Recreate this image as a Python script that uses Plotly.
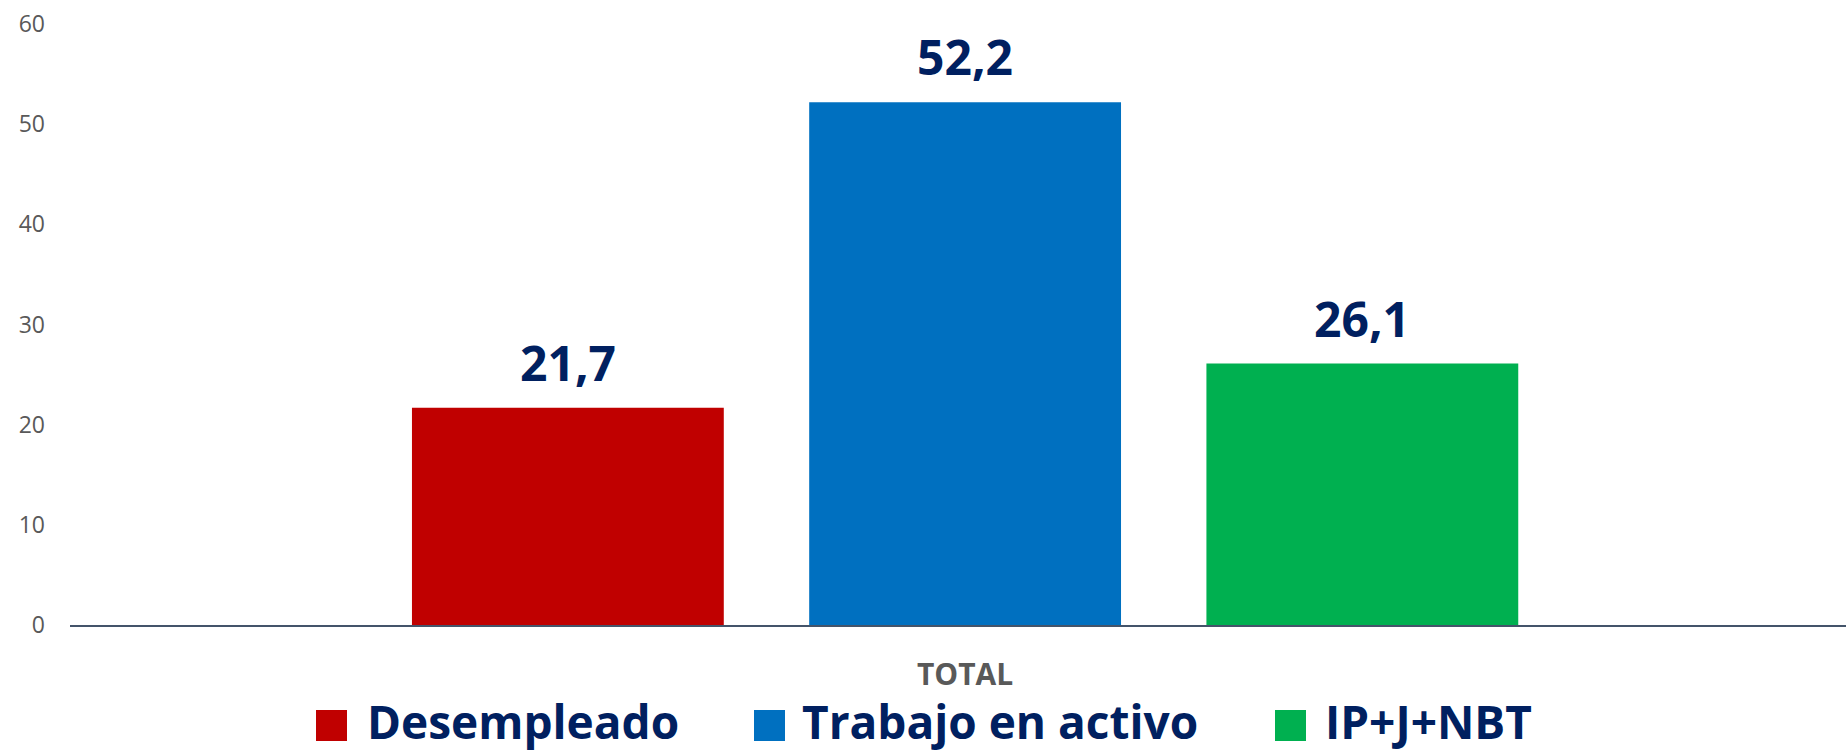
import plotly.graph_objects as go

# ---- data ----
categories = ["TOTAL"]
series_names = ["Desempleado", "Trabajo en activo", "IP+J+NBT"]
series_values = [21.7, 52.2, 26.1]
series_colors = ["#C00000", "#0070C0", "#00B050"]
y_ticks = [0, 10, 20, 30, 40, 50, 60]

# ---- layout constants ----
W, H = 1846, 752
ML, MR, MT, MB = 70, 0, 24, 127
PW, PH = W - ML - MR, H - MT - MB
BARGAP = 0.329
BARGROUPGAP = 0.215
NAVY = "#002060"
GRAY = "#595959"
FONT = "Open Sans"


def px_x(px):
    return (px - ML) / PW


def px_y(py):
    return (H - MB - py) / PH


fig = go.Figure()
for name, val, col in zip(series_names, series_values, series_colors):
    fig.add_trace(go.Bar(
        x=categories, y=[val], name=name,
        marker=dict(color=col, line=dict(width=0)),
        showlegend=False, hoverinfo="x+y+name",
    ))

# value labels above bars (positioned on the category axis through group offsets)
n = len(series_names)
slot = (1 - BARGAP) / n
annotations = []
for i, val in enumerate(series_values):
    annotations.append(dict(
        x=(i - (n - 1) / 2) * slot, y=val, xref="x", yref="y",
        text=f"{val:.1f}".replace(".", ","), showarrow=False,
        xanchor="center", yanchor="bottom", yshift=11,
        font=dict(family=FONT, size=48, color=NAVY, weight="bold"),
    ))

# custom legend (large square swatches)
sq_left = [316, 754, 1275]
txt_left = [365, 800, 1323]
SQ = 31
SQ_TOP = 710
shapes = []
for i, (name, col) in enumerate(zip(series_names, series_colors)):
    shapes.append(dict(
        type="rect", xref="paper", yref="paper",
        x0=px_x(sq_left[i]), x1=px_x(sq_left[i] + SQ),
        y0=px_y(SQ_TOP + SQ), y1=px_y(SQ_TOP),
        fillcolor=col, line=dict(width=0),
    ))
    annotations.append(dict(
        x=px_x(txt_left[i]), y=px_y(721), xref="paper", yref="paper",
        text=name, showarrow=False, xanchor="left", yanchor="middle",
        font=dict(family=FONT, size=46, color=NAVY, weight="bold"),
    ))

fig.update_layout(
    width=W, height=H,
    margin=dict(l=ML, r=MR, t=MT, b=MB),
    paper_bgcolor="white", plot_bgcolor="white",
    barmode="group", bargap=BARGAP, bargroupgap=BARGROUPGAP,
    font=dict(family=FONT, color=GRAY),
    annotations=annotations, shapes=shapes,
    showlegend=False,
)
fig.update_xaxes(
    type="category", range=[-0.504, 0.496],
    showline=True, linecolor="#44546A", linewidth=2,
    ticks="", showgrid=False, zeroline=False,
    tickfont=dict(family=FONT, size=30, color=GRAY, weight="bold"),
    ticklabelstandoff=22,
)
fig.update_yaxes(
    range=[0, 60], tickvals=y_ticks, showgrid=False, zeroline=False,
    showline=False, ticks="",
    tickfont=dict(family=FONT, size=23, color=GRAY),
    ticklabelstandoff=24,
)

fig.write_html(
    "out.html",
    config={"displayModeBar": False},
    post_script="document.body.style.margin='0';document.body.style.overflow='hidden';",
)
